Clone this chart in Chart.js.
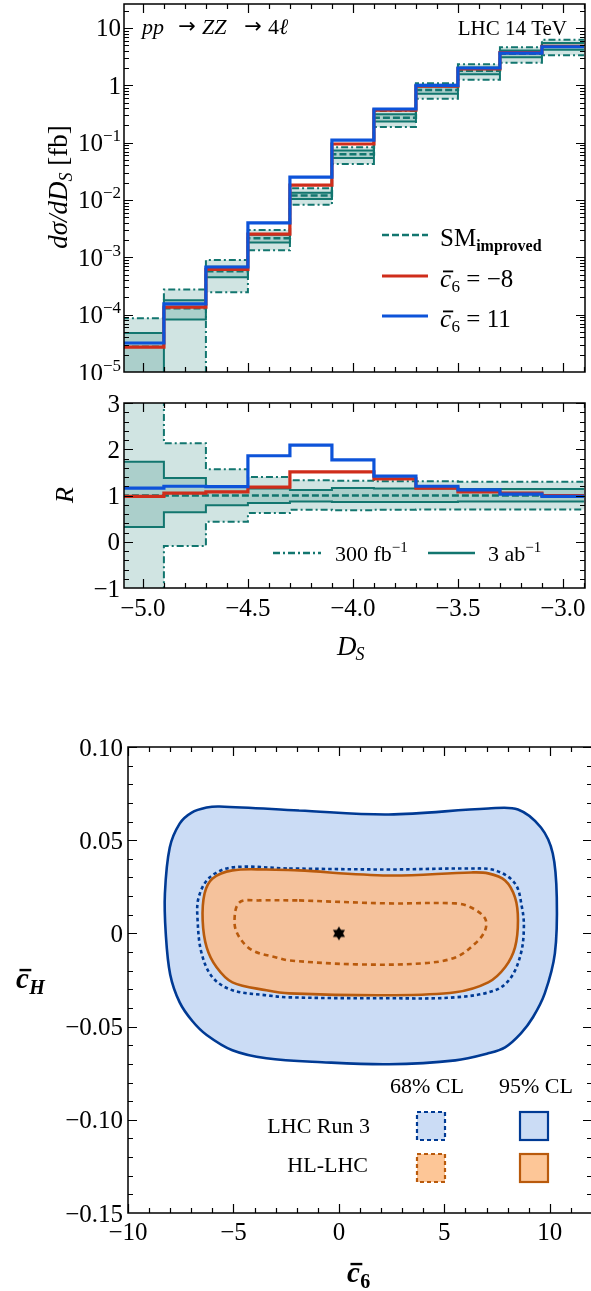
<!DOCTYPE html>
<html>
<head>
<meta charset="utf-8">
<script src="https://cdn.jsdelivr.net/npm/chart.js@4.4.1/dist/chart.umd.min.js"></script>
<style>
  html, body { margin: 0; padding: 0; background: #fff; overflow: hidden; width: 591px; height: 1291px; }
  canvas { position: absolute; left: 0; }
  #hist { top: 0; }
  #ratio { top: 380px; }
  #limits { top: 700px; }
</style>
</head>
<body>
<canvas id="hist" width="591" height="380"></canvas>
<canvas id="ratio" width="591" height="300"></canvas>
<canvas id="limits" width="600" height="591"></canvas>
<script>
// D_S bins (0.2 wide)
const binEdges = [-5.1, -4.9, -4.7, -4.5, -4.3, -4.1, -3.9, -3.7, -3.5, -3.3, -3.1, -2.9];
// SM_improved dsigma/dD_S per bin [fb]
const smXsec = [2.76e-5, 1.29e-4, 5.7e-4, 2.15e-3, 1.2e-2, 6.27e-2, 0.272, 0.83, 1.79, 3.55, 4.8];
// ratio R to SM for the two c6 benchmarks
const ratioC6m8 = [0.98, 1.05, 1.08, 1.18, 1.51, 1.51, 1.36, 1.16, 1.08, 1.05, 1.0];
const ratioC6p11 = [1.16, 1.20, 1.19, 1.86, 2.09, 1.77, 1.42, 1.20, 1.12, 1.03, 0.98];
// statistical bands relative to SM
const band300Up = [3.15, 2.13, 1.57, 1.40, 1.33, 1.32, 1.31, 1.31, 1.30, 1.30, 1.30];
const band300Lo = [-1.5, -0.09, 0.43, 0.62, 0.69, 0.68, 0.69, 0.70, 0.70, 0.70, 0.70];
const band3abUp = [1.73, 1.38, 1.20, 1.15, 1.12, 1.16, 1.15, 1.15, 1.14, 1.14, 1.14];
const band3abLo = [0.32, 0.64, 0.79, 0.84, 0.87, 0.86, 0.86, 0.86, 0.87, 0.87, 0.87];

// axis ticks
const histYExponents = [-5, -4, -3, -2, -1, 0, 1];
const dsTicks = [-5.0, -4.5, -4.0, -3.5, -3.0];
const ratioTicks = [-1, 0, 1, 2, 3];
const c6Ticks = [-10, -5, 0, 5, 10];
const cHTicks = [-0.15, -0.10, -0.05, 0, 0.05, 0.10];

// (c6, cH) contours
const run3Cl95 = [[-1.89,0.0659],[2.36,0.0638],[7.08,0.0670],[8.49,0.0665],[9.58,0.0568],[10.14,0.0429],[10.33,0.0193],[10.24,-0.0107],[9.76,-0.0322],[9.20,-0.0450],[8.63,-0.0536],[7.88,-0.0611],[7.08,-0.0643],[5.52,-0.0681],[2.36,-0.0702],[-0.80,-0.0691],[-3.44,-0.0670],[-5.05,-0.0627],[-6.27,-0.0545],[-6.95,-0.0470],[-7.55,-0.0370],[-8.00,-0.0220],[-8.21,0.0],[-8.25,0.0214],[-8.02,0.0461],[-7.55,0.0589],[-6.98,0.0648],[-6.27,0.0675],[-5.66,0.0681],[-1.89,0.0659]];
const run3Cl68 = [[-2.36,0.0348],[2.36,0.0343],[6.13,0.0348],[7.41,0.0338],[8.35,0.0268],[8.68,0.0139],[8.77,0.0032],[8.63,-0.0107],[8.16,-0.0236],[7.41,-0.0305],[5.52,-0.0343],[2.36,-0.0348],[-2.36,-0.0343],[-3.44,-0.0332],[-5.05,-0.0305],[-5.99,-0.0236],[-6.51,-0.0107],[-6.70,0.0070],[-6.65,0.0193],[-6.13,0.0300],[-5.05,0.0354],[-2.36,0.0348]];
const hlCl95 = [[-1.89,0.0338],[2.36,0.0311],[6.27,0.0327],[7.08,0.0322],[7.88,0.0284],[8.35,0.0193],[8.49,0.0070],[8.35,-0.0075],[7.88,-0.0182],[7.08,-0.0263],[5.52,-0.0316],[2.36,-0.0332],[-2.36,-0.0322],[-3.44,-0.0305],[-5.05,-0.0263],[-5.80,-0.0182],[-6.27,-0.0075],[-6.46,0.0070],[-6.37,0.0214],[-5.99,0.0295],[-5.05,0.0338],[-3.44,0.0343],[-1.89,0.0338]];
const hlCl68 = [[-1.89,0.0177],[2.36,0.0161],[5.52,0.0161],[6.27,0.0139],[6.93,0.0080],[6.93,0.0016],[6.46,-0.0054],[5.52,-0.0129],[3.92,-0.0161],[0.80,-0.0166],[-2.36,-0.0145],[-2.97,-0.0129],[-4.10,-0.0091],[-4.72,-0.0021],[-4.95,0.0059],[-4.72,0.0166],[-3.77,0.0177],[-1.89,0.0177]];
const bestFit = [[0, 0]];

const SERIF = '"Liberation Serif", "DejaVu Serif", serif';
const TEAL = '#12766f';
const TEAL_FILL = 'rgba(18,118,111,0.2)';
const RED = '#cf2d1b';
const BLUE = '#0d53d9';
const NAVY = '#003a94';
const BLUE_FILL = '#cbdcf5';
const ORANGE = '#b95a0c';
const ORANGE_FILL = '#f5c29c';
const DASH = [7, 3];
const DASHDOT = [7, 3, 2, 3];

function stepPoints(vals, floor) {
  const pts = vals.map((v, i) => ({ x: binEdges[i], y: floor ? Math.max(v, floor) : v }));
  pts.push({ x: binEdges[vals.length], y: pts[pts.length - 1].y });
  return pts;
}
const times = (a, b) => a.map((v, i) => v * b[i]);
const toXY = arr => arr.map(([x, y]) => ({ x, y }));
const minus = s => String(s).replace('-', '\u2212');

function histLine(data, color, width, dash, fill) {
  return {
    data, borderColor: color, borderWidth: width, borderDash: dash || [],
    stepped: true, pointRadius: 0, borderJoinStyle: 'miter',
    fill: fill ? '+1' : false, backgroundColor: TEAL_FILL
  };
}

function range(from, to, step) {
  const out = [];
  for (let v = from; v <= to + step / 2; v += step) out.push(+v.toFixed(6));
  return out;
}

// frame with inward ticks on all four sides
function framePlugin(cfg) {
  return {
    id: 'frame',
    afterDraw(chart) {
      const { ctx, chartArea: a } = chart;
      const sx = chart.scales.x, sy = chart.scales.y;
      ctx.save();
      ctx.strokeStyle = '#000';
      ctx.lineWidth = 1.5;
      ctx.strokeRect(a.left, a.top, a.right - a.left, a.bottom - a.top);
      ctx.lineWidth = 1.2;
      ctx.beginPath();
      const xt = (vals, len) => vals.forEach(v => {
        const p = Math.round(sx.getPixelForValue(v)) + 0.5;
        if (p < a.left || p > a.right) return;
        ctx.moveTo(p, a.bottom); ctx.lineTo(p, a.bottom - len);
        ctx.moveTo(p, a.top); ctx.lineTo(p, a.top + len);
      });
      const yt = (vals, len) => vals.forEach(v => {
        const p = Math.round(sy.getPixelForValue(v)) + 0.5;
        if (p < a.top || p > a.bottom) return;
        ctx.moveTo(a.left, p); ctx.lineTo(a.left + len, p);
        ctx.moveTo(a.right, p); ctx.lineTo(a.right - len, p);
      });
      xt(cfg.xMajor, 9); xt(cfg.xMinor, 5);
      yt(cfg.yMajor, 9); yt(cfg.yMinor, 5);
      ctx.stroke();
      ctx.fillStyle = '#000';
      ctx.textBaseline = 'alphabetic';
      cfg.draw(chart, ctx, sx, sy);
      ctx.restore();
    }
  };
}

function put(ctx, s, x, y, font, align) {
  ctx.font = font;
  ctx.textAlign = align || 'left';
  ctx.fillText(s, x, y);
  return ctx.measureText(s).width;
}

function powLabel(ctx, e, xRight, yMid) {
  const big = `25px ${SERIF}`, small = `17px ${SERIF}`;
  let base = '10', sup = '';
  if (e === 0) base = '1';
  else if (e !== 1) sup = minus(e);
  ctx.textAlign = 'left';
  ctx.font = big; const wb = ctx.measureText(base).width;
  ctx.font = small; const ws = sup ? ctx.measureText(sup).width : 0;
  const x0 = xRight - wb - ws, yb = yMid + 8.5;
  put(ctx, base, x0, yb, big);
  if (sup) put(ctx, sup, x0 + wb, yb - 10, small);
}

// c with an overbar and a subscript
function cBar(ctx, x, y, size, sub, bold, subItalic) {
  const w = bold ? 'bold ' : '';
  const cw = put(ctx, 'c', x, y, `italic ${w}${size}px ${SERIF}`);
  ctx.fillRect(x + size * 0.12, y - size * 0.66, cw * 0.92, bold ? 2.4 : 1.8);
  const sw = put(ctx, sub, x + cw + 0.5, y + size * 0.2, `${subItalic ? 'italic ' : ''}${w}${Math.round(size * 0.68)}px ${SERIF}`);
  return cw + 0.5 + sw;
}

function legendLine(ctx, x1, x2, y, color, width, dash) {
  ctx.save();
  ctx.strokeStyle = color; ctx.lineWidth = width; ctx.setLineDash(dash || []);
  ctx.beginPath(); ctx.moveTo(x1, y); ctx.lineTo(x2, y); ctx.stroke();
  ctx.restore();
}

const dsMin = -5.09, dsMax = -2.895;
const dsMinor = range(-5.0, -2.9, 0.1);

// ---- upper panel: differential cross section ----
const histSets = [
  histLine(stepPoints(times(smXsec, ratioC6p11)), BLUE, 3.2),
  histLine(stepPoints(times(smXsec, ratioC6m8)), RED, 3.2),
  histLine(stepPoints(smXsec), TEAL, 2.4, DASH),
  histLine(stepPoints(times(smXsec, band3abUp), 1e-8), TEAL, 2, null, true),
  histLine(stepPoints(times(smXsec, band3abLo), 1e-8), TEAL, 2),
  histLine(stepPoints(times(smXsec, band300Up), 1e-8), TEAL, 2, DASHDOT, true),
  histLine(stepPoints(times(smXsec, band300Lo), 1e-8), TEAL, 2, DASHDOT)
];

const logMinor = [];
histYExponents.forEach(e => { for (let k = 2; k <= 9; k++) logMinor.push(k * Math.pow(10, e)); });

new Chart(document.getElementById('hist'), {
  type: 'line',
  data: { datasets: histSets },
  options: {
    responsive: false,
    animation: false,
    layout: { padding: { left: 124, right: 6, top: 4, bottom: 8 } },
    plugins: { legend: { display: false }, tooltip: { enabled: false } },
    scales: {
      x: { type: 'linear', min: dsMin, max: dsMax, display: false },
      y: { type: 'logarithmic', min: 1e-5, max: 26.2, display: false }
    }
  },
  plugins: [framePlugin({
    xMajor: dsTicks, xMinor: dsMinor,
    yMajor: histYExponents.map(e => Math.pow(10, e)), yMinor: logMinor,
    draw(chart, ctx, sx, sy) {
      histYExponents.forEach(e => powLabel(ctx, e, 121, sy.getPixelForValue(Math.pow(10, e))));

      // y title, rotated
      ctx.save();
      ctx.translate(67, 187);
      ctx.rotate(-Math.PI / 2);
      const f = `italic 27px ${SERIF}`, fs = `italic 18px ${SERIF}`, fr = `27px ${SERIF}`;
      ctx.font = f; const w1 = ctx.measureText('d\u03c3/dD').width;
      ctx.font = fs; const w2 = ctx.measureText('S').width;
      ctx.font = fr; const w3 = ctx.measureText(' [fb]').width;
      let x = -(w1 + w2 + w3) / 2;
      x += put(ctx, 'd\u03c3/dD', x, 0, f);
      x += put(ctx, 'S', x, 5, fs);
      put(ctx, ' [fb]', x, 0, fr);
      ctx.restore();

      // process label
      const it = `italic 22px ${SERIF}`, rm = `22px ${SERIF}`, ar = `21px "DejaVu Sans", sans-serif`;
      put(ctx, 'pp', 142, 34, it);
      put(ctx, '\u2192', 187, 33, ar, 'center');
      put(ctx, 'ZZ', 202, 34, it);
      put(ctx, '\u2192', 253, 33, ar, 'center');
      const w4 = put(ctx, '4', 268, 34, rm);
      put(ctx, '\u2113', 268 + w4, 34, it);
      put(ctx, 'LHC 14 TeV', 567, 35, `21px ${SERIF}`, 'right');

      // legend
      legendLine(ctx, 382, 428, 235, TEAL, 2.6, [7, 3]);
      const wsm = put(ctx, 'SM', 440, 246, `25px ${SERIF}`);
      put(ctx, 'improved', 440 + wsm, 251, `bold 16px ${SERIF}`);
      legendLine(ctx, 382, 428, 276, RED, 3.2);
      let cw = cBar(ctx, 440, 287, 25, '6', false, false);
      put(ctx, ' = \u22128', 440 + cw, 287, `25px ${SERIF}`);
      legendLine(ctx, 382, 428, 316, BLUE, 3.2);
      cw = cBar(ctx, 440, 327, 25, '6', false, false);
      put(ctx, ' = 11', 440 + cw, 327, `25px ${SERIF}`);
    }
  })]
});

// ---- lower panel: ratio to SM ----
const ratioSets = [
  histLine(stepPoints(ratioC6p11), BLUE, 3.2),
  histLine(stepPoints(ratioC6m8), RED, 3.2),
  histLine(stepPoints(smXsec.map(v => v / v)), TEAL, 2.4, DASH),
  histLine(stepPoints(band3abUp), TEAL, 2, null, true),
  histLine(stepPoints(band3abLo), TEAL, 2),
  histLine(stepPoints(band300Up), TEAL, 2, DASHDOT, true),
  histLine(stepPoints(band300Lo), TEAL, 2, DASHDOT)
];

new Chart(document.getElementById('ratio'), {
  type: 'line',
  data: { datasets: ratioSets },
  options: {
    responsive: false,
    animation: false,
    layout: { padding: { left: 124, right: 6, top: 23, bottom: 92 } },
    plugins: { legend: { display: false }, tooltip: { enabled: false } },
    scales: {
      x: { type: 'linear', min: dsMin, max: dsMax, display: false },
      y: { type: 'linear', min: -1, max: 3, display: false }
    }
  },
  plugins: [framePlugin({
    xMajor: dsTicks, xMinor: dsMinor,
    yMajor: ratioTicks, yMinor: range(-1, 3, 0.2),
    draw(chart, ctx, sx, sy) {
      const a = chart.chartArea;
      const tf = `25px ${SERIF}`;
      ratioTicks.forEach(v => put(ctx, minus(v), 120, sy.getPixelForValue(v) + 8.5, tf, 'right'));
      dsTicks.forEach(v => put(ctx, minus(v.toFixed(1)), sx.getPixelForValue(v), a.bottom + 27.5, tf, 'center'));

      ctx.save();
      ctx.translate(73, 115);
      ctx.rotate(-Math.PI / 2);
      put(ctx, 'R', 0, 0, `italic 26px ${SERIF}`, 'center');
      ctx.restore();

      const wd = put(ctx, 'D', 337, 275, `italic 27px ${SERIF}`);
      put(ctx, 'S', 337 + wd - 1, 280, `italic 18px ${SERIF}`);

      // band legend
      const lf = `22px ${SERIF}`, sf = `15px ${SERIF}`;
      legendLine(ctx, 273, 321, 173, TEAL, 2.4, DASHDOT);
      let w = put(ctx, '300 fb', 335, 181, lf);
      put(ctx, '\u22121', 335 + w, 172, sf);
      legendLine(ctx, 428, 475, 173, TEAL, 2.4);
      w = put(ctx, '3 ab', 488, 181, lf);
      put(ctx, '\u22121', 488 + w, 172, sf);
    }
  })]
});

// ---- (c6, cH) constraints ----
function hexagram(r) {
  const c = document.createElement('canvas');
  c.width = c.height = 2 * r + 2;
  const g = c.getContext('2d');
  g.fillStyle = '#000';
  [0, Math.PI].forEach(rot => {
    g.beginPath();
    for (let k = 0; k < 3; k++) {
      const t = -Math.PI / 2 + rot + k * 2 * Math.PI / 3;
      g.lineTo(r + 1 + r * Math.cos(t), r + 1 + r * Math.sin(t));
    }
    g.closePath();
    g.fill();
  });
  return c;
}

function contour(pts, color, fillColor, dash) {
  return {
    data: toXY(pts), borderColor: color, borderWidth: 2.6, borderDash: dash || [],
    backgroundColor: fillColor, fill: 'shape', tension: 0.35, pointRadius: 0
  };
}

new Chart(document.getElementById('limits'), {
  type: 'line',
  data: {
    datasets: [
      { data: toXY(bestFit), showLine: false, pointStyle: hexagram(7), pointRadius: 7 },
      contour(hlCl68, ORANGE, ORANGE_FILL, [5, 4]),
      contour(hlCl95, ORANGE, ORANGE_FILL),
      contour(run3Cl68, NAVY, BLUE_FILL, [3.5, 3]),
      contour(run3Cl95, NAVY, BLUE_FILL)
    ]
  },
  options: {
    responsive: false,
    animation: false,
    layout: { padding: { left: 128, right: 5.6, top: 47, bottom: 78 } },
    plugins: { legend: { display: false }, tooltip: { enabled: false } },
    scales: {
      x: { type: 'linear', min: -10, max: 12, display: false },
      y: { type: 'linear', min: -0.15, max: 0.10, display: false }
    }
  },
  plugins: [framePlugin({
    xMajor: c6Ticks, xMinor: range(-10, 12, 1),
    yMajor: cHTicks, yMinor: range(-0.15, 0.10, 0.01),
    draw(chart, ctx, sx, sy) {
      const a = chart.chartArea;
      const tf = `25px ${SERIF}`;
      cHTicks.forEach(v => put(ctx, v === 0 ? '0' : minus(v.toFixed(2)), 123, sy.getPixelForValue(v) + 8.5, tf, 'right'));
      c6Ticks.forEach(v => put(ctx, minus(v), sx.getPixelForValue(v), a.bottom + 27, tf, 'center'));

      cBar(ctx, 347, 582, 29, '6', true, false);
      cBar(ctx, 16, 288, 29, 'H', true, true);

      // legend
      const lf = `22px ${SERIF}`;
      put(ctx, '68% CL', 427, 393, lf, 'center');
      put(ctx, '95% CL', 536, 393, lf, 'center');
      put(ctx, 'LHC Run 3', 370, 433, lf, 'right');
      put(ctx, 'HL-LHC', 368, 472, lf, 'right');
      const box = (x, y, stroke, fill, dash) => {
        ctx.save();
        ctx.fillStyle = fill; ctx.fillRect(x, y, 28, 28);
        ctx.strokeStyle = stroke; ctx.lineWidth = 2.2; ctx.setLineDash(dash || []);
        ctx.strokeRect(x, y, 28, 28);
        ctx.restore();
      };
      box(417, 412, NAVY, BLUE_FILL, [4, 3]);
      box(520, 412, NAVY, BLUE_FILL);
      box(417, 454, ORANGE, '#fdc697', [4, 3]);
      box(520, 454, ORANGE, '#fdc697');
    }
  })]
});
</script>
</body>
</html>
